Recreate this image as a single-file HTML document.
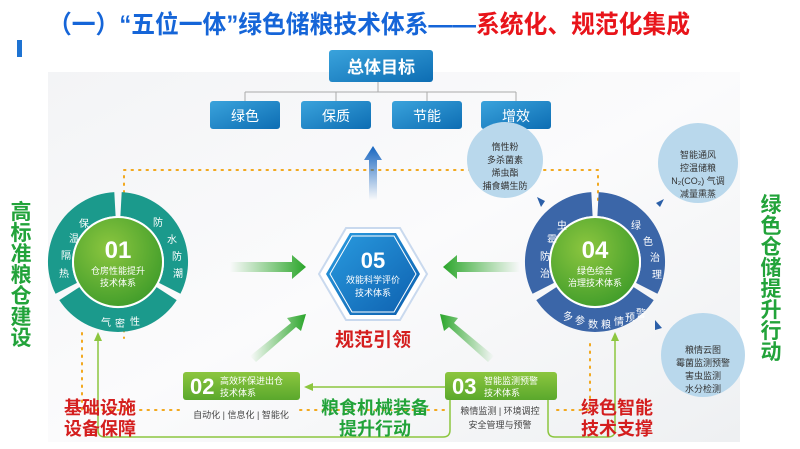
<!DOCTYPE html>
<html><head><meta charset="utf-8"><style>
html,body{margin:0;padding:0;background:#fff}
svg{display:block}
text{font-family:"Liberation Sans","Noto Sans CJK SC",sans-serif}
</style></head><body>
<svg width="800" height="449" viewBox="0 0 800 449" xmlns="http://www.w3.org/2000/svg">
<defs>
<linearGradient id="bg" x1="0" y1="0" x2="1" y2="1"><stop offset="0" stop-color="#f3f4f6"/><stop offset="0.5" stop-color="#fbfbfc"/><stop offset="1" stop-color="#eef0f2"/></linearGradient>
<linearGradient id="bbox" x1="0" y1="0" x2="1" y2="1"><stop offset="0" stop-color="#3aa3dc"/><stop offset="1" stop-color="#0d6db3"/></linearGradient>
<radialGradient id="gc" cx="0.4" cy="0.35" r="0.7"><stop offset="0" stop-color="#8cc63f"/><stop offset="1" stop-color="#3f9c2a"/></radialGradient>
<linearGradient id="hex" x1="0" y1="0" x2="1" y2="1"><stop offset="0" stop-color="#2a9ce0"/><stop offset="1" stop-color="#0d5fae"/></linearGradient>
<linearGradient id="upA" x1="0" y1="1" x2="0" y2="0"><stop offset="0" stop-color="#1565c0" stop-opacity="0"/><stop offset="1" stop-color="#1565c0"/></linearGradient>
<linearGradient id="gaL" x1="0" y1="0" x2="1" y2="0"><stop offset="0" stop-color="#3aab35" stop-opacity="0"/><stop offset="1" stop-color="#2aa52a"/></linearGradient>
<linearGradient id="gaR" x1="1" y1="0" x2="0" y2="0"><stop offset="0" stop-color="#3aab35" stop-opacity="0"/><stop offset="1" stop-color="#2aa52a"/></linearGradient>
<linearGradient id="gbox" x1="0" y1="0" x2="0" y2="1"><stop offset="0" stop-color="#8cc63f"/><stop offset="1" stop-color="#5aa82c"/></linearGradient>
</defs>
<rect width="800" height="449" fill="#fff"/>
<rect x="48" y="72" width="692" height="370" fill="url(#bg)"/>
<rect x="17" y="40" width="5" height="17" fill="#1e73d2"/>
<text x="48" y="33" font-size="25" font-weight="bold" fill="#1565d8" textLength="642" lengthAdjust="spacingAndGlyphs">（一）“五位一体”绿色储粮技术体系——<tspan fill="#e8141a">系统化、规范化集成</tspan></text>

<!-- top boxes -->
<g stroke="#aaa" stroke-width="1" fill="none"><path d="M378 82V92M245 92H516M245 92V101M336 92V101M427 92V101M516 92V101"/></g>
<rect x="329" y="50" width="104" height="32" rx="3" fill="url(#bbox)"/>
<text x="381" y="73" font-size="17" font-weight="bold" fill="#fff" text-anchor="middle">总体目标</text>
<g font-size="14" fill="#fff" text-anchor="middle">
<rect x="210" y="101" width="70" height="28" rx="3" fill="url(#bbox)"/><text x="245" y="121">绿色</text>
<rect x="301" y="101" width="70" height="28" rx="3" fill="url(#bbox)"/><text x="336" y="121">保质</text>
<rect x="392" y="101" width="70" height="28" rx="3" fill="url(#bbox)"/><text x="427" y="121">节能</text>
<rect x="481" y="101" width="70" height="28" rx="3" fill="url(#bbox)"/><text x="516" y="121">增效</text>
</g>

<!-- dotted lines -->
<g stroke="#f2a81d" stroke-width="2" stroke-dasharray="1.5 6" stroke-linecap="round" fill="none">
<path d="M124 200V170H598V200"/>
<path d="M82 333V410H183"/>
<path d="M300 410H445"/>
<path d="M557 410H590V340"/>
<path d="M124 330V338"/>
</g>
<!-- green solid lines -->
<g stroke="#8cc63f" stroke-width="1.5" fill="none">
<path d="M450 400V430Q450 437 443 437H105Q98 437 98 430V340"/>
<path d="M548 400V430Q548 437 555 437H608Q615 437 615 430V340"/>
<path d="M445 387H312"/>
</g>
<g fill="#8cc63f"><path d="M98 332L94 341H102Z"/><path d="M615 332L611 341H619Z"/><path d="M304 387L313 383V391Z"/></g>

<!-- bubbles -->
<circle cx="505" cy="160" r="38" fill="#b9d8ec"/>
<circle cx="698" cy="163" r="40" fill="#b9d8ec"/>
<circle cx="703" cy="355" r="42" fill="#b9d8ec"/>
<g font-size="9" fill="#333" text-anchor="middle">
<text x="505" y="150">惰性粉</text><text x="505" y="163">多杀菌素</text><text x="505" y="176">烯虫酯</text><text x="505" y="189">捕食螨生防</text>
<text x="698" y="158">智能通风</text><text x="698" y="171">控温储粮</text><text x="698" y="184">N₂(CO₂) 气调</text><text x="698" y="197">减量熏蒸</text>
<text x="703" y="353">粮情云图</text><text x="703" y="366">霉菌监测预警</text><text x="703" y="379">害虫监测</text><text x="703" y="392">水分检测</text>
</g>
<g fill="#2b5fa8"><path d="M537 197L545 201L541 207Z"/><path d="M656 203L664 199L660 207Z"/><path d="M655 320L662 328L655 330Z"/></g>

<!-- ring 01 -->
<g fill="#1b9a8c">
<path d="M121.7 192.1A70 70 0 0 1 180.4 293.8L159 282.9A46 46 0 0 0 120.4 216.1Z"/>
<path d="M176.7 300.1A70 70 0 0 1 59.3 300.1L79.4 287.1A46 46 0 0 0 156.6 287.1Z"/>
<path d="M55.6 293.8A70 70 0 0 1 114.3 192.1L115.6 216.1A46 46 0 0 0 77 282.9Z"/>
</g>
<circle cx="118" cy="262" r="45" fill="url(#gc)" stroke="#fff" stroke-width="2"/>
<text x="118" y="258" font-size="24" font-weight="bold" fill="#fff" text-anchor="middle">01</text>
<text x="118" y="274" font-size="9" fill="#fff" text-anchor="middle">仓房性能提升</text>
<text x="118" y="286" font-size="9" fill="#fff" text-anchor="middle">技术体系</text>
<g font-size="10" fill="#fff" text-anchor="middle">
<text x="84" y="227">保</text><text x="74" y="242">温</text><text x="66" y="259">隔</text><text x="64" y="277">热</text>
<text x="158" y="226">防</text><text x="172" y="243">水</text><text x="177" y="260">防</text><text x="178" y="277">潮</text>
<text x="106" y="326">气</text><text x="120" y="327">密</text><text x="135" y="325">性</text>
</g>

<!-- ring 04 -->
<g fill="#3b66a8">
<path d="M598.7 192.1A70 70 0 0 1 657.4 293.8L636 282.9A46 46 0 0 0 597.4 216.1Z"/>
<path d="M653.7 300.1A70 70 0 0 1 536.3 300.1L556.4 287.1A46 46 0 0 0 633.6 287.1Z"/>
<path d="M532.6 293.8A70 70 0 0 1 591.3 192.1L592.6 216.1A46 46 0 0 0 554 282.9Z"/>
</g>
<circle cx="595" cy="262" r="45" fill="url(#gc)" stroke="#fff" stroke-width="2"/>
<text x="595" y="258" font-size="24" font-weight="bold" fill="#fff" text-anchor="middle">04</text>
<text x="595" y="274" font-size="9" fill="#fff" text-anchor="middle">绿色综合</text>
<text x="595" y="286" font-size="9" fill="#fff" text-anchor="middle">治理技术体系</text>
<g font-size="10" fill="#fff" text-anchor="middle">
<text x="562" y="229">虫</text><text x="552" y="243">霉</text><text x="545" y="260">防</text><text x="545" y="277">治</text>
<text x="636" y="229">绿</text><text x="648" y="245">色</text><text x="655" y="261">治</text><text x="657" y="278">理</text>
<text x="568" y="320">多</text><text x="580" y="324">参</text><text x="593" y="328">数</text><text x="606" y="328">粮</text><text x="619" y="325">情</text><text x="630" y="321">预</text><text x="641" y="317">警</text>
</g>

<!-- hexagon 05 -->
<path d="M319 274L346 228H400L427 274L400 320H346Z" fill="#fff" stroke="#c9d9ee" stroke-width="2"/>
<path d="M326 274L350 233H396L420 274L396 315H350Z" fill="url(#hex)"/>
<path d="M330 274L352 236H394L416 274L394 312H352Z" fill="none" stroke="#fff" stroke-width="1"/>
<text x="373" y="268" font-size="22" font-weight="bold" fill="#fff" text-anchor="middle">05</text>
<text x="373" y="283" font-size="9" fill="#fff" text-anchor="middle">效能科学评价</text>
<text x="373" y="296" font-size="9" fill="#fff" text-anchor="middle">技术体系</text>
<text x="373" y="346" font-size="19" font-weight="bold" fill="#d41e1e" text-anchor="middle">规范引领</text>

<!-- arrows -->
<path d="M369 200V160H364L373 146L382 160H377V200Z" fill="url(#upA)"/>
<path d="M230 262H292V255L306 267L292 279V272H230Z" fill="url(#gaL)"/>
<path d="M520 262H457V255L443 267L457 279V272H520Z" fill="url(#gaR)"/>
<path d="M250 356L291 323L287 318L306 314L301 331L296 327L256 362Z" fill="url(#gaL)"/>
<path d="M494 356L454 323L458 318L440 314L444 331L449 327L488 362Z" fill="url(#gaR)"/>

<!-- boxes 02 03 -->
<rect x="183" y="372" width="117" height="28" rx="3" fill="url(#gbox)"/>
<text x="190" y="394" font-size="22" font-weight="bold" fill="#fff">02</text>
<text x="220" y="384" font-size="9" fill="#fff">高效环保进出仓</text>
<text x="220" y="396" font-size="9" fill="#fff">技术体系</text>
<text x="241" y="418" font-size="9" fill="#444" text-anchor="middle">自动化 | 信息化 | 智能化</text>
<rect x="445" y="372" width="112" height="28" rx="3" fill="url(#gbox)"/>
<text x="452" y="394" font-size="22" font-weight="bold" fill="#fff">03</text>
<text x="484" y="384" font-size="9" fill="#fff">智能监测预警</text>
<text x="484" y="396" font-size="9" fill="#fff">技术体系</text>
<text x="500" y="414" font-size="9" fill="#444" text-anchor="middle">粮情监测 | 环境调控</text>
<text x="500" y="428" font-size="9" fill="#444" text-anchor="middle">安全管理与预警</text>

<!-- side labels -->
<g font-size="18" font-weight="bold" text-anchor="middle">
<text x="100" y="414" fill="#d41e1e">基础设施</text><text x="100" y="435" fill="#d41e1e">设备保障</text>
<text x="375" y="414" fill="#22a33a">粮食机械装备</text><text x="375" y="435" fill="#22a33a">提升行动</text>
<text x="617" y="414" fill="#d41e1e">绿色智能</text><text x="617" y="435" fill="#d41e1e">技术支撑</text>
</g>
<g font-size="21" font-weight="bold" fill="#22a33a" text-anchor="middle">
<text x="21" y="219">高</text><text x="21" y="240">标</text><text x="21" y="261">准</text><text x="21" y="282">粮</text><text x="21" y="303">仓</text><text x="21" y="324">建</text><text x="21" y="345">设</text>
<text x="771" y="212">绿</text><text x="771" y="233">色</text><text x="771" y="254">仓</text><text x="771" y="275">储</text><text x="771" y="296">提</text><text x="771" y="317">升</text><text x="771" y="338">行</text><text x="771" y="359">动</text>
</g>
</svg>
</body></html>
